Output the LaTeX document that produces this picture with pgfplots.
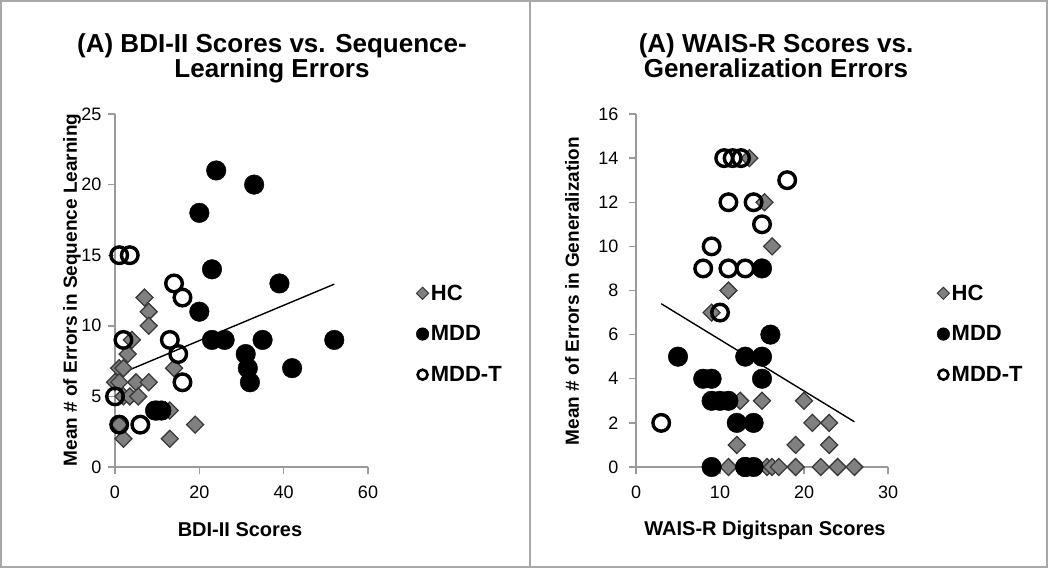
\documentclass[border=0pt]{standalone}
\usepackage{fontspec}
\setmainfont{Liberation Sans}
\usepackage{pgfplots}
\pgfplotsset{compat=1.18}

\definecolor{hcfill}{HTML}{808080}
\definecolor{hcdraw}{HTML}{3A3A3A}
\definecolor{axgray}{HTML}{9A9A9A}
\definecolor{framegray}{HTML}{A8A8A8}

\pgfplotsset{
 myax/.style={
  scale only axis, height=353pt,
  axis lines=left, axis line style={-, axgray, line width=1.6pt},
  tick align=outside, major tick length=7pt,
  tick style={axgray, line width=1.4pt},
  tick label style={font=\fontsize{18}{20}\selectfont, black},
  xticklabel style={yshift=-8pt},
  /pgf/number format/assume math mode=true,
  ymin=0, clip=false,
  legend style={draw=none, fill=none, font=\fontsize{22}{24}\selectfont\bfseries, row sep=20pt, anchor=west, legend cell align=left, inner sep=0pt},
 },
 hc/.style={only marks, mark=square*, mark size=6pt,
   mark options={rotate=45, fill=hcfill, draw=hcdraw, line width=1.3pt},
   legend image code/.code={\draw[mark=square*, mark size=4.3pt, mark options={rotate=45, fill=hcfill, draw=hcdraw, line width=1pt}] plot coordinates {(0pt,0pt)};}},
 mdd/.style={only marks, mark=*, mark size=9.8pt,
   mark options={fill=black, draw=black, line width=0.4pt},
   legend image code/.code={\draw[mark=*, mark size=6.3pt, mark options={fill=black, draw=black}] plot coordinates {(0pt,0pt)};}},
 mddt/.style={only marks, mark=o, mark size=8.3pt,
   mark options={draw=black, line width=3.4pt},
   legend image code/.code={\draw[mark=o, mark size=5pt, mark options={draw=black, line width=2.6pt}] plot coordinates {(0pt,0pt)};}},
 trend/.style={black, line width=1.4pt, no marks, forget plot},
}

\begin{document}
\begin{tikzpicture}
\useasboundingbox (0pt,0pt) rectangle (1048pt,568pt);
\draw[framegray, line width=1.6pt] (0.8pt,0.8pt) rectangle (1047.2pt,567.2pt);
\draw[framegray, line width=1.6pt] (530pt,0pt) -- (530pt,568pt);

% ---------------- Left panel ----------------
\begin{axis}[myax, width=253pt, at={(115pt,101pt)}, anchor=south west,
  xmin=0, xmax=60, ymax=25, xtick={0,20,40,60}, ytick={0,5,10,15,20,25},
  yticklabel style={xshift=-3pt},
  legend style={at={(1.19,0.377)}}]
\addplot[hc] coordinates {
 (7,12) (8,11) (8,10) (4,9) (3,8) (1,7) (2,7) (14,7) (0,6) (1,6) (5,6) (8,6)
 (2,5) (3.5,5) (5.5,5) (12,4) (13,4) (1,3) (19,3) (2,2) (13,2)
};
\addlegendentry{HC}
\addplot[mdd] coordinates {
 (24,21) (33,20) (20,18) (23,14) (39,13) (20,11) (23,9) (26,9) (35,9) (52,9)
 (31,8) (31.5,7) (32,6) (42,7) (9.5,4) (11,4)
};
\addlegendentry{MDD}
\addplot[mddt] coordinates {
 (1,15) (3.5,15) (14,13) (16,12) (13,9) (15,8) (16,6) (2,9) (0,5) (1,3) (6,3) (10,4)
};
\addlegendentry{MDD-T}
\addplot[trend] coordinates {(1.5,6.64) (52,12.95)};
\end{axis}

% ---------------- Right panel ----------------
\begin{axis}[myax, width=252pt, at={(636pt,101pt)}, anchor=south west,
  xmin=0, xmax=30, ymax=16, xtick={0,10,20,30}, ytick={0,2,...,16},
  yticklabel style={xshift=-7pt},
  legend style={at={(1.194,0.377)}}]
\addplot[hc] coordinates {
 (13.5,14) (15.3,12) (16.2,10) (11,8) (9,7) (12.4,3) (15,3) (20,3) (21,2) (23,2)
 (12,1) (19,1) (23,1) (11,0) (15.6,0) (16.2,0) (17,0) (19,0) (22,0) (24,0) (26,0)
};
\addlegendentry{HC}
\addplot[mdd] coordinates {
 (15,9) (16,6) (5,5) (13,5) (15,5) (8,4) (9,4) (15,4) (9,3) (10,3) (11,3)
 (12,2) (14,2) (9,0) (13,0) (14,0)
};
\addlegendentry{MDD}
\addplot[mddt] coordinates {
 (10.5,14) (11.5,14) (12.5,14) (11,12) (14,12) (15,11) (9,10) (8,9) (11,9) (13,9)
 (18,13) (10,7) (3,2) (13,0)
};
\addlegendentry{MDD-T}
\addplot[trend] coordinates {(3,7.4) (26,2.05)};
\end{axis}

% ---------------- Texts ----------------
\begin{scope}[every node/.style={font=\fontsize{26}{26}\selectfont\bfseries, anchor=base, inner sep=0pt}]
\node at (272pt,515pt) {(A) BDI-II Scores vs. Sequence-};
\node at (272pt,490pt) {Learning Errors};
\node at (776pt,515pt) {(A) WAIS-R Scores vs.};
\node at (776pt,490pt) {Generalization Errors};
\end{scope}
\node[rotate=90, font=\fontsize{19}{22}\selectfont\bfseries] at (72pt,278pt)
  {Mean \# of Errors in Sequence Learning};
\node[rotate=90, font=\fontsize{19}{22}\selectfont\bfseries] at (572pt,277pt)
  {Mean \# of Errors in Generalization};
\node[font=\fontsize{20}{22}\selectfont\bfseries] at (240pt,38pt) {BDI-II Scores};
\node[font=\fontsize{20}{22}\selectfont\bfseries] at (765pt,38pt) {WAIS-R Digitspan Scores};
\end{tikzpicture}
\end{document}
